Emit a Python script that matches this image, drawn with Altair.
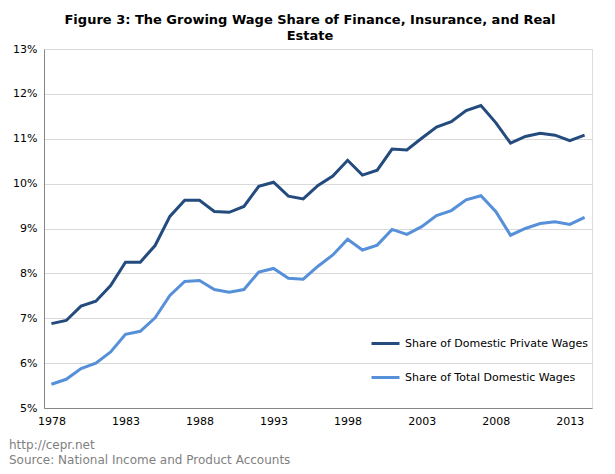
import altair as alt
import pandas as pd

years = list(range(1978, 2015))
private_share = [6.88, 6.95, 7.27, 7.38, 7.73, 8.25, 8.25, 8.62, 9.27, 9.63,
                 9.63, 9.38, 9.36, 9.49, 9.94, 10.03, 9.72, 9.66, 9.96, 10.17,
                 10.52, 10.19, 10.30, 10.77, 10.75, 11.01, 11.26, 11.38, 11.63, 11.74,
                 11.36, 10.90, 11.05, 11.12, 11.08, 10.96, 11.08]
total_share = [5.53, 5.64, 5.88, 6.00, 6.25, 6.64, 6.71, 7.01, 7.51, 7.82,
               7.84, 7.64, 7.58, 7.64, 8.03, 8.11, 7.89, 7.87, 8.16, 8.41,
               8.76, 8.52, 8.63, 8.98, 8.87, 9.04, 9.29, 9.40, 9.64, 9.73,
               9.38, 8.85, 9.00, 9.11, 9.15, 9.09, 9.25]
series_names = ["Share of Domestic Private Wages", "Share of Total Domestic Wages"]
series_colors = ["#244B7E", "#5690D8"]
x_tick_years = [1978, 1983, 1988, 1993, 1998, 2003, 2008, 2013]
y_ticks = [0.05, 0.06, 0.07, 0.08, 0.09, 0.10, 0.11, 0.12, 0.13]
title_lines = ["Figure 3: The Growing Wage Share of Finance, Insurance, and Real", "Estate"]
footer_lines = ["http://cepr.net", "Source: National Income and Product Accounts"]

rows = []
for name, vals in zip(series_names, [private_share, total_share]):
    for y, v in zip(years, vals):
        rows.append({"year": y, "value": v / 100.0, "series": name})
df = pd.DataFrame(rows)

FONT = "DejaVu Sans"

lines = alt.Chart(df).mark_line(strokeWidth=3).encode(
    x=alt.X("year:Q",
            scale=alt.Scale(domain=[1977.5, 2014.5], nice=False, zero=False),
            axis=alt.Axis(values=x_tick_years, format="d", title=None, grid=False,
                          ticks=False, domain=True, domainColor="#868686",
                          labelFont=FONT, labelFontSize=11, labelColor="#000000",
                          labelPadding=7, labelFlush=False)),
    y=alt.Y("value:Q",
            scale=alt.Scale(domain=[0.05, 0.13], nice=False, zero=False),
            axis=alt.Axis(values=y_ticks, format=".0%", title=None, grid=True,
                          gridColor="#D9D9D9", gridWidth=1, ticks=False,
                          domain=True, domainColor="#868686",
                          labelFont=FONT, labelFontSize=11, labelColor="#000000",
                          labelPadding=7)),
    color=alt.Color("series:N",
                    scale=alt.Scale(domain=series_names, range=series_colors),
                    legend=alt.Legend(orient="none", legendX=326, legendY=279,
                                      title=None, symbolType="stroke",
                                      symbolSize=784, symbolStrokeWidth=3,
                                      labelFont=FONT, labelFontSize=11,
                                      labelColor="#000000", labelOffset=4,
                                      labelLimit=0, rowPadding=12, padding=0)),
)

footer_layers = []
for i, txt in enumerate(footer_lines):
    fdf = pd.DataFrame({"text": [txt]})
    footer_layers.append(
        alt.Chart(fdf).mark_text(
            align="left", baseline="alphabetic", font=FONT, fontSize=12, color="#7F7F7F"
        ).encode(
            x=alt.value(-35),
            y=alt.value(400 + 15 * i),
            text="text:N",
        )
    )

chart = alt.layer(lines, *footer_layers).properties(
    width=548, height=359,
    title=alt.TitleParams(text=title_lines, font=FONT, fontSize=13, fontWeight="bold",
                          color="#000000", anchor="middle", dx=-8, offset=0,
                          lineHeight=16),
    autosize=alt.AutoSizeParams(type="none"),
    padding={"left": 36, "top": 41, "right": 10, "bottom": 58},
).configure_view(stroke=None).configure(background="#FFFFFF")

chart.save("out.html", embed_options={"renderer": "svg", "actions": False})
